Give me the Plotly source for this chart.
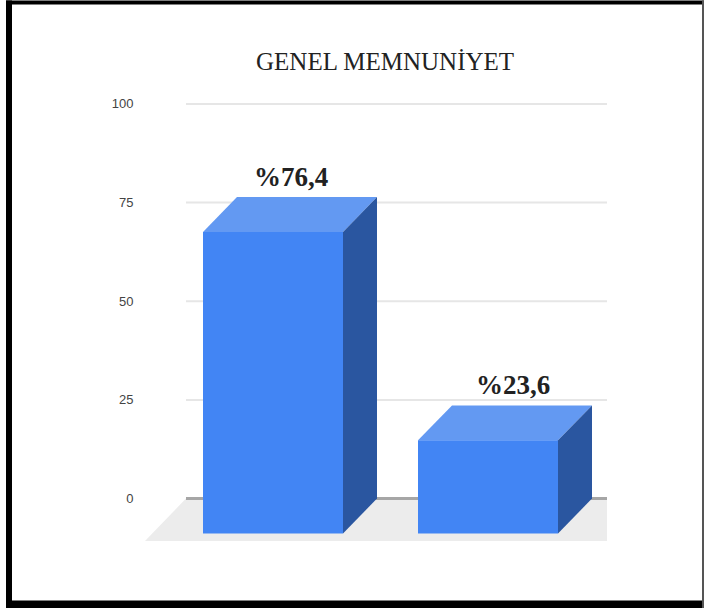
import plotly.graph_objects as go

# Data
categories = ["Memnun", "Memnun değil"]
values = [76.4, 23.6]
value_labels = ["%76,4", "%23,6"]
tick_values = [0, 25, 50, 75, 100]
tick_labels = ["0", "25", "50", "75", "100"]
title_text = "GENEL MEMNUNİYET"

# Colours
FRONT = "#4285f4"
TOP = "#6399f2"
SIDE = "#2a56a0"
FLOOR = "#ececec"
GRID = "#e6e6e6"
ZERO = "#a6a6a6"
FRAME = "#000000"

# Geometry of the pseudo-3D box, in axis units
W, H = 704, 608
PX_Y = (498.5 - 103.5) / 100          # pixels per value unit
PX_X = 215                            # pixels between categories
PLOT_L, PLOT_R, PLOT_B = 145, 607, 541
YMAX = 102
PLOT_T = 498.5 - YMAX * PX_Y
BAR_W = 140 / PX_X
DX = 34 / PX_X
DY = 35 / PX_Y
X0 = 273
XMIN = (PLOT_L - X0) / PX_X
XMAX = (PLOT_R - X0) / PX_X
YMIN = -(PLOT_B - 498.5) / PX_Y
FLOOR_LEFT = XMIN + (186 - PLOT_L) / PX_X

fig = go.Figure()

# Floor
fig.add_trace(go.Scatter(
    x=[XMIN, FLOOR_LEFT, XMAX, XMAX, XMIN], y=[YMIN, 0, 0, YMIN, YMIN],
    mode="lines", fill="toself", fillcolor=FLOOR, line=dict(width=0),
    hoverinfo="skip", showlegend=False))

# Gridlines
for t in tick_values:
    fig.add_trace(go.Scatter(
        x=[FLOOR_LEFT, XMAX], y=[t, t], mode="lines",
        line=dict(color=ZERO if t == 0 else GRID, width=3 if t == 0 else 2),
        hoverinfo="skip", showlegend=False))

# Bars
for i, (cat, v) in enumerate(zip(categories, values)):
    l = i - BAR_W / 2
    r = i + BAR_W / 2
    base = -DY
    top = v - DY
    fig.add_trace(go.Scatter(
        x=[l, l + DX, r + DX, r, l], y=[top, v, v, top, top],
        mode="lines", fill="toself", fillcolor=TOP, line=dict(width=0),
        hoverinfo="skip", showlegend=False))
    fig.add_trace(go.Scatter(
        x=[r, r + DX, r + DX, r, r], y=[top, v, 0, base, top],
        mode="lines", fill="toself", fillcolor=SIDE, line=dict(width=0),
        hoverinfo="skip", showlegend=False))
    fig.add_trace(go.Scatter(
        x=[l, r, r, l, l], y=[base, base, top, top, base],
        mode="lines", fill="toself", fillcolor=FRONT, line=dict(width=0),
        name=cat, showlegend=False))


def paper_x(px):
    return (px - PLOT_L) / (PLOT_R - PLOT_L)


def paper_y(px):
    return (PLOT_B - px) / (PLOT_B - PLOT_T)


annotations = [
    dict(x=i + DX / 2, y=v, xref="x", yref="y", text=f"<b>{lab}</b>", showarrow=False,
         yanchor="bottom", yshift=3, xshift=1 + 7 * i,
         font=dict(family="Liberation Serif", size=27, color="#222222"))
    for i, (v, lab) in enumerate(zip(values, value_labels))
]
annotations.append(dict(
    x=paper_x(385), y=paper_y(61), xref="paper", yref="paper", text=title_text,
    showarrow=False, xanchor="center", yanchor="middle",
    font=dict(family="Liberation Serif", size=25, color="#222222")))

frame = [
    (6, 12, 0, H, FRAME),
    (6, W, 0, 4, FRAME),
    (6, W, 600.5, H, FRAME),
    (702, W, 0, H, "#555555"),
]
shapes = [
    dict(type="rect", xref="paper", yref="paper", layer="above",
         x0=paper_x(x0), x1=paper_x(x1), y0=paper_y(y1), y1=paper_y(y0),
         fillcolor=c, line=dict(width=0))
    for x0, x1, y0, y1, c in frame
]

fig.update_layout(
    width=W, height=H, autosize=False,
    margin=dict(l=PLOT_L, r=W - PLOT_R, t=PLOT_T, b=H - PLOT_B, pad=0),
    paper_bgcolor="white", plot_bgcolor="white",
    showlegend=False,
    xaxis=dict(range=[XMIN, XMAX], visible=False, fixedrange=True),
    yaxis=dict(range=[YMIN, YMAX], tickvals=tick_values, ticktext=tick_labels,
               showgrid=False, zeroline=False, showline=False, ticks="outside",
               ticklen=8, tickcolor="rgba(0,0,0,0)", fixedrange=True,
               tickfont=dict(family="Liberation Sans", size=13, color="#444444")),
    annotations=annotations, shapes=shapes,
)
fig.write_html("out.html", config={"displayModeBar": False},
               post_script="document.body.style.margin='0';")
